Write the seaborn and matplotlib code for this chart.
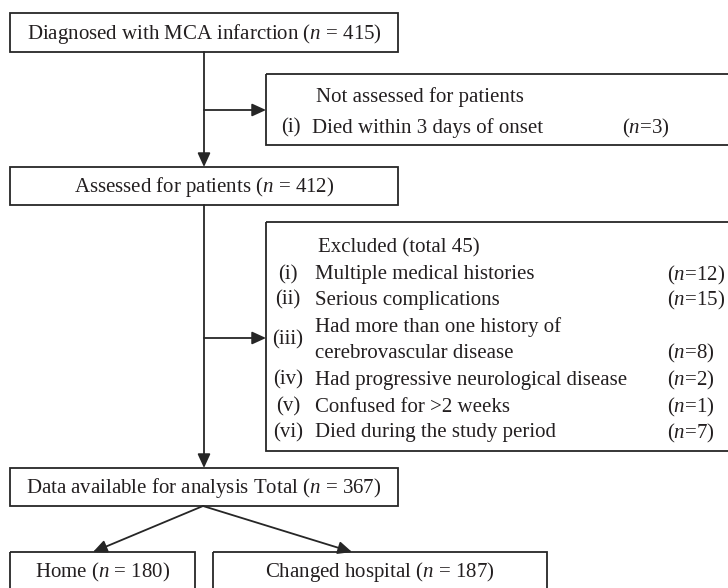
# Patient selection flowchart (MCA infarction cohort)
import matplotlib
matplotlib.use("Agg")
import matplotlib.pyplot as plt
from matplotlib.patches import Rectangle
import seaborn as sns

# ------------------------------------------------------------
# Data
# ------------------------------------------------------------
main_steps = ["Diagnosed with MCA infarction", "Assessed for patients",
              "Data available for analysis Total"]
main_n = [415, 412, 367]

not_assessed_title = "Not assessed for patients"
not_assessed_tags = ["(i)"]
not_assessed_reasons = ["Died within 3 days of onset"]
not_assessed_n = [3]

excluded_title = "Excluded (total 45)"
excluded_tags = ["(i)", "(ii)", "(iii)", "(iv)", "(v)", "(vi)"]
excluded_reasons = ["Multiple medical histories",
                    "Serious complications",
                    "Had more than one history of\ncerebrovascular disease",
                    "Had progressive neurological disease",
                    "Confused for >2 weeks",
                    "Died during the study period"]
excluded_n = [12, 15, 8, 2, 1, 7]

outcome_labels = ["Home", "Changed hospital"]
outcome_n = [180, 187]

# ------------------------------------------------------------
# Style
# ------------------------------------------------------------
sns.set_theme(style="white")
plt.rcParams["font.family"] = ["Liberation Serif", "DejaVu Serif"]
plt.rcParams["mathtext.fontset"] = "custom"
plt.rcParams["mathtext.rm"] = "Liberation Serif"
plt.rcParams["mathtext.it"] = "Liberation Serif:italic"

LINE = "#262626"
TXT = "#231f20"
FS = 15

fig = plt.figure(figsize=(7.28, 5.88), dpi=100)
ax = fig.add_axes([0, 0, 1, 1])
ax.set_xlim(0, 728)
ax.set_ylim(588, 0)
ax.axis("off")


def box(x0, y0, x1, y1):
    ax.add_patch(Rectangle((x0, y0), x1 - x0, y1 - y0, fill=False,
                           edgecolor=LINE, lw=1.3))


def arrow(x0, y0, x1, y1):
    ax.annotate("", xy=(x1, y1), xytext=(x0, y0),
                arrowprops=dict(arrowstyle="-|>,head_length=0.7,head_width=0.32",
                                color=LINE, lw=1.3,
                                mutation_scale=12, shrinkA=0, shrinkB=0))


def nlabel(label, n):
    return f"{label} ($n$ = {n})"


# ------------------------------------------------------------
# Main column
# ------------------------------------------------------------
main_boxes = [(10, 13, 398, 52), (10, 167, 398, 205), (10, 468, 398, 506)]
for (x0, y0, x1, y1), lab, n in zip(main_boxes, main_steps, main_n):
    box(x0, y0, x1, y1)
    ax.text((x0 + x1) / 2, (y0 + y1) / 2 + 1, nlabel(lab, n), ha="center",
            va="center", fontsize=FS, color=TXT)

arrow(204, 52, 204, 167)
arrow(204, 205, 204, 468)

# Not assessed box
box(266, 74, 740, 145)
arrow(204, 110, 266, 110)
ax.text(316, 97, not_assessed_title, ha="left", va="center",
        fontsize=FS, color=TXT)
for tag, reason, n in zip(not_assessed_tags, not_assessed_reasons,
                          not_assessed_n):
    ax.text(281, 128, tag, ha="left", va="center", fontsize=FS, color=TXT)
    ax.text(312, 128, reason, ha="left", va="center", fontsize=FS, color=TXT)
    ax.text(622, 128, f"($n$={n})", ha="left", va="center",
            fontsize=FS, color=TXT)

# Excluded box
box(266, 222, 740, 451)
arrow(204, 338, 266, 338)
ax.text(318, 248, excluded_title, ha="left", va="center",
        fontsize=FS, color=TXT)
rows_y = [275, 300, 340, 380, 407, 433]
for yy, tag, reason, n in zip(rows_y, excluded_tags, excluded_reasons,
                              excluded_n):
    ax.text(288, yy, tag, ha="center", va="center", fontsize=FS, color=TXT)
    if "\n" in reason:
        first, second = reason.split("\n")
        ax.text(315, yy - 13, first, ha="left", va="center",
                fontsize=FS, color=TXT)
        ax.text(315, yy + 13, second, ha="left", va="center",
                fontsize=FS, color=TXT)
        ny = yy + 13
    else:
        ax.text(315, yy, reason, ha="left", va="center",
                fontsize=FS, color=TXT)
        ny = yy
    ax.text(667, ny, f"($n$={n})", ha="left", va="center",
            fontsize=FS, color=TXT)

# Outcomes
out_boxes = [(10, 552, 195, 600), (213, 552, 547, 600)]
out_tips = [(93, 552), (352, 552)]
for (x0, y0, x1, y1), tip, lab, n in zip(out_boxes, out_tips,
                                         outcome_labels, outcome_n):
    box(x0, y0, x1, y1)
    arrow(203, 506, tip[0], tip[1])
    ax.text((x0 + x1) / 2, 572, nlabel(lab, n), ha="center", va="center",
            fontsize=FS, color=TXT)

plt.savefig("out.png", dpi=100)
